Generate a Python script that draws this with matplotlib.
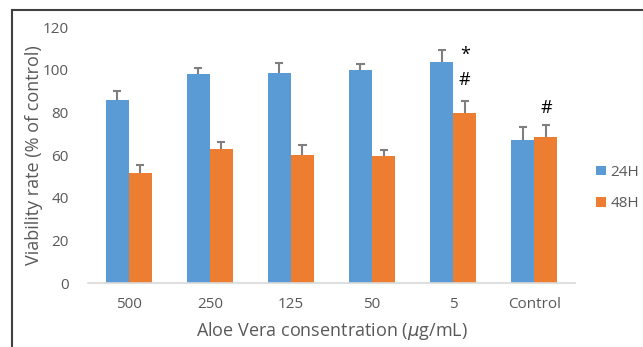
import numpy as np
import matplotlib.pyplot as plt
from matplotlib.lines import Line2D

# Données
categories = ['500', '250', '125', '50', '5', 'Control']
v24 = [86, 98, 98.3, 100, 103.5, 67]
v48 = [51.5, 62.8, 60, 59.5, 79.7, 68.3]
e24 = [4, 3, 5, 2.6, 5.6, 6]
e48 = [3.8, 3.2, 4.8, 2.8, 5.6, 5.8]

plt.rcParams['font.family'] = ['Open Sans', 'DejaVu Sans']

fig = plt.figure(figsize=(6.43, 3.47), dpi=100)
ax = fig.add_axes([0.137, 0.184, 0.757, 0.738])

x = np.arange(len(categories))
w = 0.285
blue = '#5B9BD5'
orange = '#ED7D31'
errc = '#7F7F7F'
cap = 0.05

ax.bar(x - w / 2, v24, w, color=blue, label='24H')
ax.bar(x + w / 2, v48, w, color=orange, label='48H')

# barres d'erreur (partie supérieure seulement)
for xs, v, e in [(x - w / 2, v24, e24), (x + w / 2, v48, e48)]:
    top = np.array(v) + np.array(e)
    ax.vlines(xs, v, top, color=errc, lw=1.5)
    ax.hlines(top, xs - cap, xs + cap, color=errc, lw=1.5)

# annotations de significativité
ax.text(x[4] + w / 2, v24[4] + e24[4] - 2, '*', ha='center', va='center', fontsize=13)
ax.text(x[4] + w / 2, 95, '#', ha='center', va='center', fontsize=13)
ax.text(x[5] + w / 2, 82, '#', ha='center', va='center', fontsize=13)

ax.set_xlim(-0.5, 5.5)
ax.set_ylim(0, 120)
ax.set_yticks(range(0, 121, 20))
ax.set_xticks(x)
ax.set_xticklabels(categories)
ax.tick_params(length=0, colors='#595959', labelsize=11)
ax.tick_params(axis='x', pad=10)
ax.tick_params(axis='y', pad=14)

for s in ['top', 'right', 'left']:
    ax.spines[s].set_visible(False)
ax.spines['bottom'].set_color('#D9D9D9')
ax.spines['bottom'].set_linewidth(1.2)

ax.set_ylabel('Viability rate (% of control)', fontsize=13, color='#595959', labelpad=0)
ax.set_xlabel(r'Aloe Vera consentration ($\mu$g/mL)', fontsize=13, color='#595959', labelpad=6)

ax.legend(loc='upper left', bbox_to_anchor=(1.016, 0.515), frameon=False, fontsize=11,
          handlelength=0.6, handleheight=0.6, handletextpad=0.3, labelspacing=1.05,
          labelcolor='#595959')

# cadre du graphique
fig.add_artist(Line2D([12 / 643, 1.0], [1 - 10 / 347, 1 - 10 / 347], color='#404040', lw=1.5))
fig.add_artist(Line2D([12 / 643, 12 / 643], [0, 1 - 10 / 347], color='#404040', lw=1.5))

fig.savefig('out.png', dpi=100)
